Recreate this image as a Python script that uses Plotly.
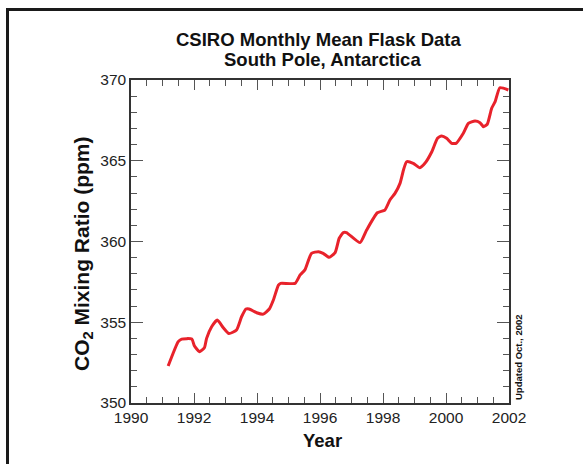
import plotly.graph_objects as go

years = [1991.18, 1991.5, 1991.61, 1991.93, 1992.01, 1992.17, 1992.33, 1992.4, 1992.56, 1992.74,
         1992.93, 1993.11, 1993.35, 1993.51, 1993.65, 1993.75, 1993.99, 1994.2, 1994.39, 1994.52,
         1994.68, 1994.75, 1995.21, 1995.37, 1995.52, 1995.73, 1995.95, 1996.1, 1996.29, 1996.48,
         1996.61, 1996.74, 1996.84, 1997.27, 1997.48, 1997.82, 1998.06, 1998.22, 1998.38, 1998.54,
         1998.65, 1998.75, 1998.96, 1999.17, 1999.33, 1999.55, 1999.73, 1999.86, 2000.02, 2000.18,
         2000.32, 2000.55, 2000.71, 2000.92, 2001.08, 2001.19, 2001.31, 2001.45, 2001.56, 2001.71,
         2001.98]
co2 = [352.29, 353.8, 353.96, 353.96, 353.55, 353.18, 353.42, 354.0, 354.72, 355.14,
       354.66, 354.3, 354.52, 355.34, 355.82, 355.82, 355.59, 355.5, 355.82, 356.38,
       357.3, 357.41, 357.41, 357.93, 358.24, 359.27, 359.37, 359.27, 359.02, 359.31,
       360.2, 360.55, 360.55, 359.93, 360.71, 361.78, 361.95, 362.57, 362.98, 363.6,
       364.43, 364.94, 364.84, 364.57, 364.84, 365.56, 366.39, 366.53, 366.39, 366.08,
       366.08, 366.7, 367.31, 367.46, 367.36, 367.11, 367.26, 368.25, 368.66, 369.52,
       369.38]

x_ticks = [1990, 1992, 1994, 1996, 1998, 2000, 2002]
y_ticks = [350, 355, 360, 365, 370]

title_line1 = "CSIRO Monthly Mean Flask Data"
title_line2 = "South Pole, Antarctica"
x_title = "Year"
y_title = "CO<sub>2</sub> Mixing Ratio (ppm)"
note_text = "Updated Oct., 2002"

FONT = "Liberation Sans, Arial, Helvetica, sans-serif"

fig = go.Figure()
fig.add_trace(go.Scatter(x=years, y=co2, mode="lines",
                         line=dict(color="#e8222b", width=3, shape="spline", smoothing=0.5),
                         hoverinfo="skip", showlegend=False))

axis_common = dict(
    showgrid=False, zeroline=False, showline=True, linecolor="#333333", linewidth=1.5,
    mirror="ticks", ticks="inside", tickcolor="#555555", tickwidth=1.3,
    tickfont=dict(family=FONT, size=15.5, color="#222222"),
)

fig.update_xaxes(range=[1990, 2002], tickvals=x_ticks, ticklen=10,
                 minor=dict(dtick=0.5, ticks="inside", ticklen=6, tickcolor="#555555", tickwidth=1.3),
                 **axis_common)
fig.update_yaxes(range=[350, 370], tickvals=y_ticks, ticklen=12,
                 minor=dict(dtick=1, ticks="inside", ticklen=6, tickcolor="#555555", tickwidth=1.3),
                 **axis_common)

W, H = 583, 464
L, R, T, B = 131, 74, 80, 61
pw, ph = W - L - R, H - T - B

def px_x(p):
    return (p - L) / pw

def px_y(p):
    return (H - B - p) / ph

def label(text, xp, yp, size, angle=0):
    return dict(text="<b>" + text + "</b>", x=px_x(xp), y=px_y(yp), xref="paper", yref="paper",
                showarrow=False, textangle=angle, font=dict(family=FONT, size=size, color="#111111"),
                xanchor="center", yanchor="middle")

fig.update_layout(
    width=W, height=H, margin=dict(l=L, r=R, t=T, b=B),
    paper_bgcolor="white", plot_bgcolor="white",
    annotations=[
        label(title_line1, 318, 40, 18.5),
        label(title_line2, 322, 60, 18.5),
        label(x_title, 322, 440, 18.5),
        label(y_title, 83, 254, 21, angle=-90),
        label(note_text, 518, 357, 9.5, angle=-90),
    ],
    shapes=[
        dict(type="line", xref="paper", yref="paper", x0=px_x(7.5), x1=px_x(7.5),
             y0=px_y(8.5), y1=px_y(480), line=dict(color="#1a1a1a", width=3)),
        dict(type="line", xref="paper", yref="paper", x0=px_x(6), x1=px_x(600),
             y0=px_y(9.5), y1=px_y(9.5), line=dict(color="#1a1a1a", width=3)),
    ],
)

fig.write_html("out.html")
